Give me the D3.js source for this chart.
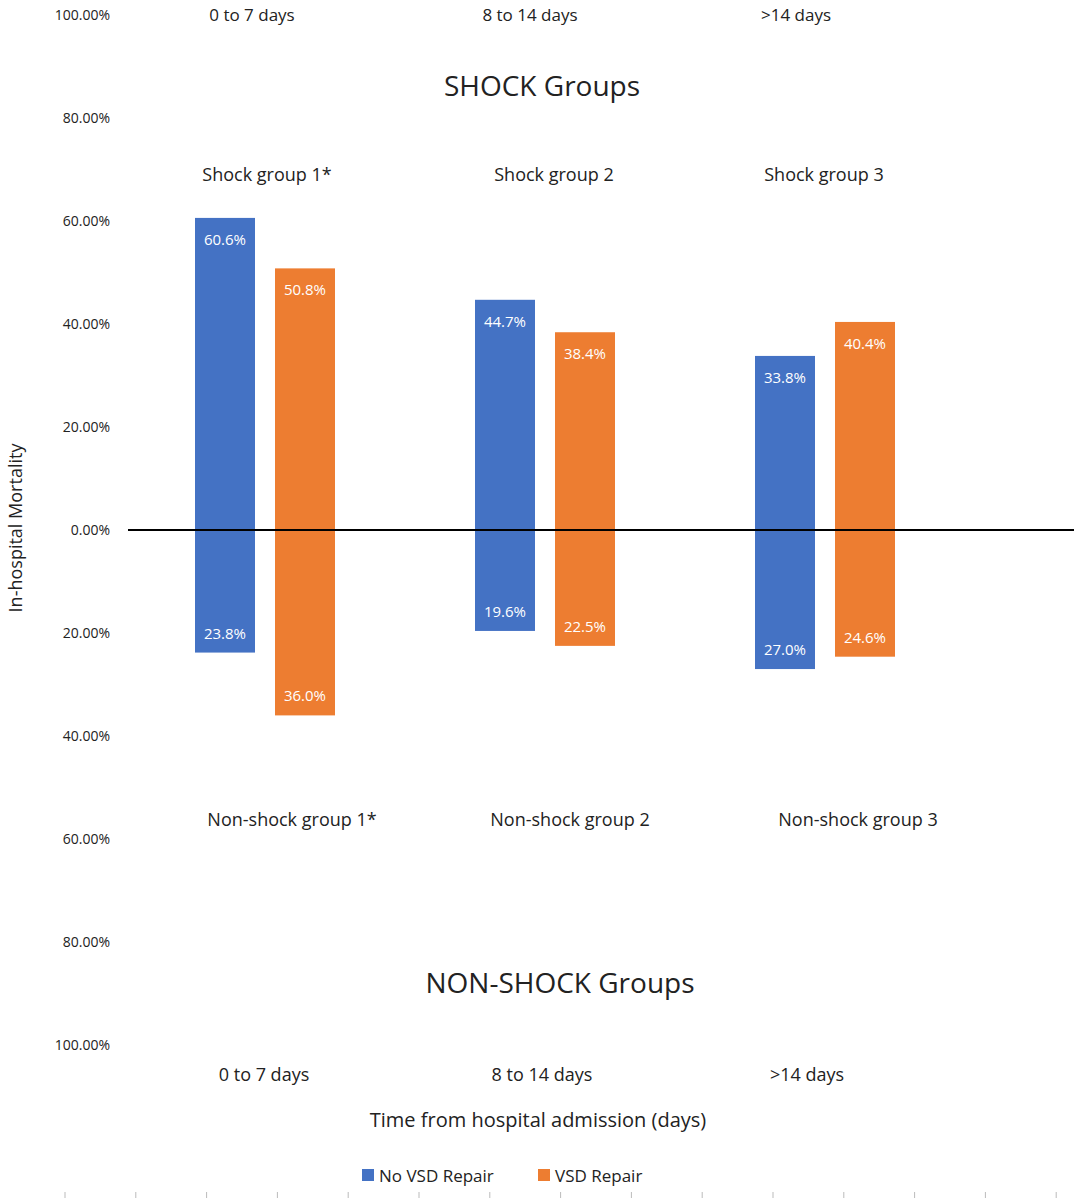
<!DOCTYPE html>
<html>
<head>
<script src="https://cdn.jsdelivr.net/npm/d3@7"></script>
<style>
body{margin:0;background:#fff;font-family:"Open Sans","Noto Sans",sans-serif;}
text{fill:#222;}
</style>
</head>
<body>
<div id="chart"></div>
<script>
var groups = ["g1", "g2", "g3"];
var series = ["No VSD Repair", "VSD Repair"];
var shockValues = [[60.6, 50.8], [44.7, 38.4], [33.8, 40.4]];
var nonShockValues = [[23.8, 36.0], [19.6, 22.5], [27.0, 24.6]];
var tickLabels = ["100.00%","80.00%","60.00%","40.00%","20.00%","0.00%","20.00%","40.00%","60.00%","80.00%","100.00%"];
var tickValues = [100,80,60,40,20,0,-20,-40,-60,-80,-100];
var timeLabels = ["0 to 7 days", "8 to 14 days", ">14 days"];
var shockLabels = ["Shock group 1*", "Shock group 2", "Shock group 3"];
var nonShockLabels = ["Non-shock group 1*", "Non-shock group 2", "Non-shock group 3"];
var colors = ["#4472c4", "#ed7d31"];

var W = 1074, H = 1200;
var svg = d3.select("#chart").append("svg").attr("width", W).attr("height", H);

var y = d3.scaleLinear().domain([100, -100]).range([15, 1045]);
var x = d3.scaleBand().domain(groups).range([125, 965]);
var xs = d3.scaleBand().domain(series).range([-70, 70]).paddingInner(0.25).paddingOuter(0);

// y tick labels
svg.selectAll(".yt").data(tickValues).enter().append("text")
  .attr("x", 110).attr("y", function(d){ return y(d) + 5; })
  .attr("text-anchor", "end").attr("font-size", 14)
  .text(function(d, i){ return tickLabels[i]; });

svg.append("text").attr("transform", "translate(22,528) rotate(-90)")
  .attr("text-anchor", "middle").attr("font-size", 18).text("In-hospital Mortality");

function bars(vals, positive){
  groups.forEach(function(g, gi){
    series.forEach(function(s, si){
      var v = vals[gi][si];
      var x0 = x(g) + x.bandwidth()/2 + xs(s);
      var top = positive ? y(v) : y(0);
      var bot = positive ? y(0) : y(-v);
      svg.append("rect").attr("x", x0).attr("y", top)
        .attr("width", xs.bandwidth()).attr("height", bot - top).attr("fill", colors[si]);
      svg.append("text").attr("x", x0 + xs.bandwidth()/2)
        .attr("y", positive ? top + 27 : bot - 14)
        .attr("text-anchor", "middle").attr("font-size", 15).style("fill", "#fff")
        .text(v.toFixed(1) + "%");
    });
  });
}
bars(shockValues, true);
bars(nonShockValues, false);

svg.append("line").attr("x1", 128).attr("x2", W).attr("y1", y(0)).attr("y2", y(0))
  .attr("stroke", "#000").attr("stroke-width", 2);

function labels(arr, yy, offsets, size){
  svg.selectAll(null).data(arr).enter().append("text")
    .attr("x", function(d, i){ return x(groups[i]) + x.bandwidth()/2 + offsets[i]; })
    .attr("y", yy).attr("text-anchor", "middle").attr("font-size", size)
    .text(function(d){ return d; });
}
labels(timeLabels, 21, [-13, -15, -29], 17);
labels(shockLabels, 181, [2, 9, -1], 18);
labels(nonShockLabels, 826, [27, 25, 33], 18);
labels(timeLabels, 1081, [-1, -3, -18], 18);

svg.append("text").attr("x", 542).attr("y", 96).attr("text-anchor", "middle")
  .attr("font-size", 28).text("SHOCK Groups");
svg.append("text").attr("x", 560).attr("y", 993).attr("text-anchor", "middle")
  .attr("font-size", 28).text("NON-SHOCK Groups");
svg.append("text").attr("x", 538).attr("y", 1127).attr("text-anchor", "middle")
  .attr("font-size", 20).text("Time from hospital admission (days)");

// legend
var lx = [362, 538];
series.forEach(function(s, i){
  svg.append("rect").attr("x", lx[i]).attr("y", 1169).attr("width", 12).attr("height", 12).attr("fill", colors[i]);
  svg.append("text").attr("x", lx[i] + 17).attr("y", 1182).attr("font-size", 17).text(s);
});

// bottom minor ticks
d3.range(15).forEach(function(i){
  svg.append("line").attr("x1", 65 + i*70.8).attr("x2", 65 + i*70.8)
    .attr("y1", 1192).attr("y2", 1198).attr("stroke", "#bbb");
});
</script>
</body>
</html>
